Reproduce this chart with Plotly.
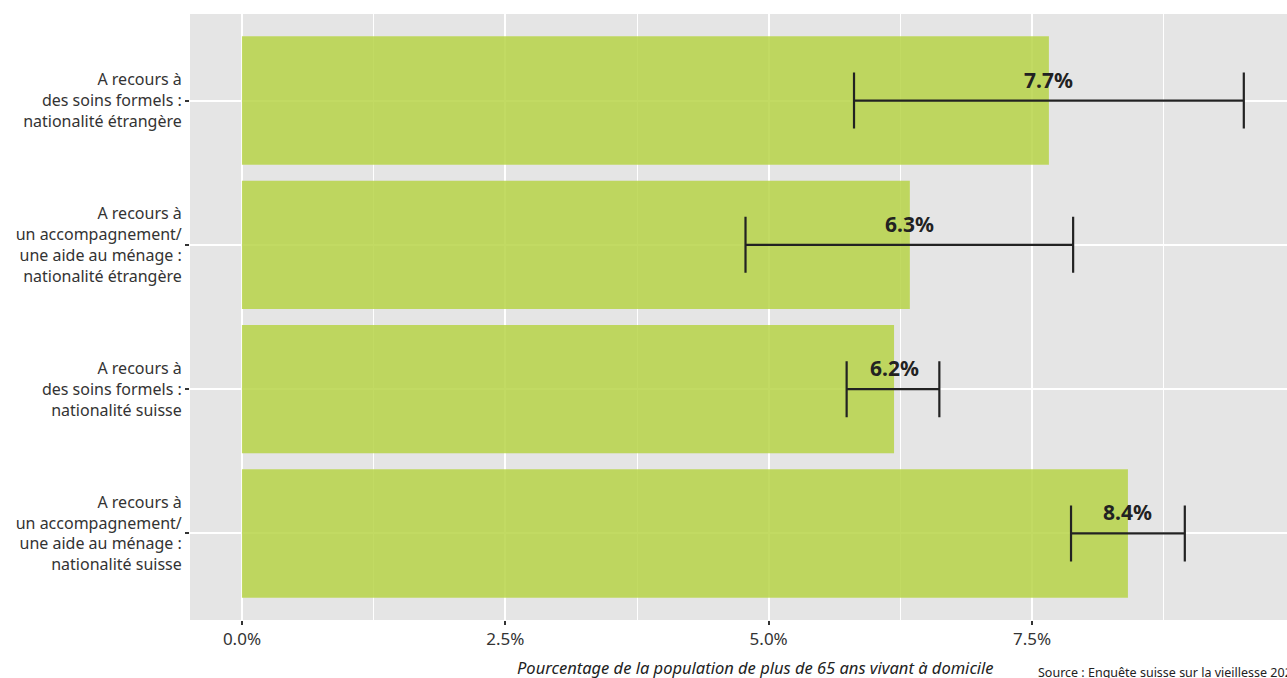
import plotly.graph_objects as go

categories = [
    "A recours à<br>un accompagnement/<br>une aide au ménage :<br>nationalité suisse",
    "A recours à<br>des soins formels :<br>nationalité suisse",
    "A recours à<br>un accompagnement/<br>une aide au ménage :<br>nationalité étrangère",
    "A recours à<br>des soins formels :<br>nationalité étrangère",
]
values = [8.41, 6.19, 6.34, 7.66]
ci_low = [7.87, 5.74, 4.78, 5.81]
ci_high = [8.95, 6.62, 7.89, 9.51]
labels = ["8.4%", "6.2%", "6.3%", "7.7%"]
x_ticks = [0, 2.5, 5, 7.5]
x_ticklabels = ["0.0%", "2.5%", "5.0%", "7.5%"]

FONT = "Noto Sans"
W, H = 1287, 678
ML, MT, MB = 190, 14, 678 - 620
PW = W - ML
PH = H - MT - MB

fig = go.Figure()
fig.add_trace(go.Bar(
    x=values, y=categories, orientation="h", width=0.89,
    marker=dict(color="rgba(183,211,72,0.85)", line=dict(width=0)),
    error_x=dict(type="data", symmetric=False,
                 array=[h - v for h, v in zip(ci_high, values)],
                 arrayminus=[v - l for v, l in zip(values, ci_low)],
                 color="#222222", thickness=2.2, width=28),
    hoverinfo="skip", showlegend=False,
))

for v, c, t in zip(values, categories, labels):
    fig.add_annotation(x=v, y=c, text="<b>" + t + "</b>", showarrow=False,
                       yshift=21, font=dict(family=FONT, size=21, color="#222222"))

fig.add_annotation(x=(755 - 190) / PW, xref="paper", y=-(667 - 620) / PH, yref="paper",
                   yanchor="middle",
                   text="<i>Pourcentage de la population de plus de 65 ans vivant à domicile</i>",
                   showarrow=False,
                   font=dict(family=FONT, size=16.5, color="#222222"))
fig.add_annotation(x=(1036 - 190) / PW, xref="paper", y=-(672 - 620) / PH, yref="paper",
                   text="Source : Enquête suisse sur la vieillesse 2023",
                   showarrow=False, xanchor="left", yanchor="middle",
                   font=dict(family=FONT, size=12.5, color="#222222"))

fig.update_layout(
    width=W, height=H,
    margin=dict(l=ML, r=0, t=MT, b=MB),
    paper_bgcolor="white", plot_bgcolor="#e5e5e5",
    font=dict(family=FONT, size=16, color="#333333"),
    xaxis=dict(range=[-0.493, 9.92], tickvals=x_ticks, ticktext=x_ticklabels,
               showgrid=True, gridcolor="white", gridwidth=1.5,
               minor=dict(tickvals=[1.25, 3.75, 6.25, 8.75], showgrid=True,
                          gridcolor="white", gridwidth=0.7),
               ticks="outside", ticklen=4, tickcolor="#333333", tickwidth=1.5,
               zeroline=False, tickfont=dict(size=17, color="#333333")),
    yaxis=dict(categoryorder="array", categoryarray=categories,
               range=[-0.6, 3.6],
               showgrid=True, gridcolor="white", gridwidth=1.5,
               ticks="outside", ticklen=4, tickcolor="#333333", tickwidth=1.5,
               tickfont=dict(size=16, color="#333333"), zeroline=False),
)

fig.write_html("out.html", config={"displayModeBar": False},
               post_script="document.body.style.margin='0';document.body.style.overflow='hidden';")
